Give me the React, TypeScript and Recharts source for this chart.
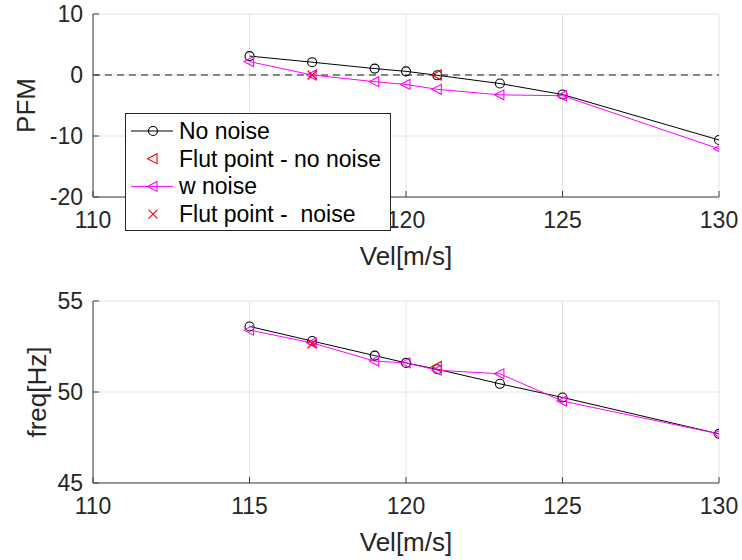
import { ComposedChart, Line, XAxis, YAxis, CartesianGrid, ReferenceLine } from 'recharts';

const vel = [115, 117, 119, 120, 121, 123, 125, 130];
const pfmNoNoise = [3.1, 2.1, 1.05, 0.6, -0.05, -1.4, -3.2, -10.65];
const pfmNoise = [2.2, 0, -1.1, -1.55, -2.35, -3.25, -3.4, -12.1];
const freqNoNoise = [53.6, 52.8, 52.0, 51.6, 51.25, 50.45, 49.7, 47.7];
const freqNoise = [53.4, 52.7, 51.7, 51.6, 51.2, 51.0, 49.5, 47.7];

const flutVelNoNoise = [121];
const flutPfmNoNoise = [0];
const flutFreqNoNoise = [51.4];
const flutVelNoise = [117];
const flutPfmNoise = [0];
const flutFreqNoise = [52.65];

const velTicks = [110, 115, 120, 125, 130];
const pfmTicks = [-20, -10, 0, 10];
const freqTicks = [45, 50, 55];

const legendItems = ['No noise', 'Flut point - no noise', 'w noise', 'Flut point -  noise'];

const FONT = '"Liberation Sans", Arial, Helvetica, sans-serif';
const TXT = '#262626';
const AXIS = '#404040';
const MAGENTA = '#ff00ff';
const RED = '#ff0000';

const zip = (xs: number[], ys: number[]) => xs.map((x, i) => ({ x, y: ys[i] }));

const circleDot = (color: string) => (p: any) =>
  p.cx == null ? <g key={p.key} /> : (
    <circle key={p.key} cx={p.cx} cy={p.cy} r={4.5} fill="none" stroke={color} strokeWidth={1.1} />
  );

const triDot = (color: string) => (p: any) =>
  p.cx == null ? <g key={p.key} /> : (
    <polygon
      key={p.key}
      points={`${p.cx - 5.5},${p.cy} ${p.cx + 4},${p.cy - 5} ${p.cx + 4},${p.cy + 5}`}
      fill="none"
      stroke={color}
      strokeWidth={1.1}
    />
  );

const crossDot = (color: string) => (p: any) =>
  p.cx == null ? <g key={p.key} /> : (
    <path
      key={p.key}
      d={`M${p.cx - 4.5},${p.cy - 4.5}L${p.cx + 4.5},${p.cy + 4.5}M${p.cx - 4.5},${p.cy + 4.5}L${p.cx + 4.5},${p.cy - 4.5}`}
      stroke={color}
      strokeWidth={1.2}
    />
  );

const XTick = (p: any) => (
  <g>
    <line x1={p.x} x2={p.x} y1={p.y} y2={p.y - 6} stroke={AXIS} />
    <text x={p.x} y={p.y + 23} textAnchor="middle" dominantBaseline="central" fill={TXT} fontSize={23} fontFamily={FONT}>
      {p.payload.value}
    </text>
  </g>
);

const YTick = (p: any) => (
  <g>
    <line x1={p.x} x2={p.x + 6} y1={p.y} y2={p.y} stroke={AXIS} />
    <text x={p.x - 10} y={p.y} textAnchor="end" dominantBaseline="central" fill={TXT} fontSize={23} fontFamily={FONT}>
      {p.payload.value}
    </text>
  </g>
);

const xLabel = (props: any) => {
  const vb = props.viewBox;
  return (
    <text x={vb.x + vb.width / 2} y={vb.y + 59} textAnchor="middle" dominantBaseline="central" fill={TXT} fontSize={26} fontFamily={FONT}>
      Vel[m/s]
    </text>
  );
};

const yLabel = (text: string, cx: number) => (props: any) => {
  const vb = props.viewBox;
  const cy = vb.y + vb.height / 2;
  return (
    <text x={cx} y={cy} transform={`rotate(-90 ${cx} ${cy})`} textAnchor="middle" dominantBaseline="central" fill={TXT} fontSize={26} fontFamily={FONT}>
      {text}
    </text>
  );
};

function Panel(props: {
  top: number;
  margin: { top: number; right: number; bottom: number; left: number };
  yDomain: [number, number];
  yTicks: number[];
  yTitle: string;
  yTitleX: number;
  noNoise: number[];
  noise: number[];
  flutNoNoise: number[];
  flutNoise: number[];
  zeroLine?: boolean;
}) {
  return (
    <div style={{ position: 'absolute', left: 0, top: props.top }}>
      <ComposedChart width={742} height={280} margin={props.margin}>
        <CartesianGrid stroke="#e2e2e2" />
        <XAxis
          type="number"
          dataKey="x"
          domain={[110, 130]}
          ticks={velTicks}
          allowDataOverflow
          height={60}
          stroke={AXIS}
          tickSize={0}
          tickMargin={0}
          tick={XTick}
          label={{ content: xLabel }}
        />
        <YAxis
          type="number"
          dataKey="y"
          domain={props.yDomain}
          ticks={props.yTicks}
          allowDataOverflow
          width={93}
          stroke={AXIS}
          tickSize={0}
          tickMargin={0}
          tick={YTick}
          label={{ content: yLabel(props.yTitle, props.yTitleX) }}
        />
        {props.zeroLine && (
          <ReferenceLine y={0} stroke="#1a1a1a" strokeDasharray="7 5" strokeWidth={1} />
        )}
        <Line
          data={zip(vel, props.noNoise)}
          dataKey="y"
          stroke="#000000"
          strokeWidth={1}
          dot={circleDot('#000000')}
          isAnimationActive={false}
        />
        <Line
          data={zip(flutVelNoNoise, props.flutNoNoise)}
          dataKey="y"
          stroke="none"
          dot={triDot(RED)}
          isAnimationActive={false}
        />
        <Line
          data={zip(vel, props.noise)}
          dataKey="y"
          stroke={MAGENTA}
          strokeWidth={1}
          dot={triDot(MAGENTA)}
          isAnimationActive={false}
        />
        <Line
          data={zip(flutVelNoise, props.flutNoise)}
          dataKey="y"
          stroke="none"
          dot={crossDot(RED)}
          isAnimationActive={false}
        />
      </ComposedChart>
    </div>
  );
}

function LegendBox() {
  const rowH = 27.7;
  return (
    <div
      style={{
        position: 'absolute',
        left: 125,
        top: 113,
        width: 264,
        height: 116,
        background: '#ffffff',
        border: '1px solid #262626',
      }}
    >
      <svg width={264} height={116} style={{ position: 'absolute', left: 0, top: 0 }}>
        {legendItems.map((name, i) => {
          const cy = 17 + i * rowH;
          const cx = 27;
          const p = { cx, cy, key: name };
          return (
            <g key={name}>
              {i === 0 && <line x1={5} x2={47} y1={cy} y2={cy} stroke="#000" />}
              {i === 2 && <line x1={5} x2={47} y1={cy} y2={cy} stroke={MAGENTA} />}
              {i === 0 && circleDot('#000000')(p)}
              {i === 1 && triDot(RED)(p)}
              {i === 2 && triDot(MAGENTA)(p)}
              {i === 3 && crossDot(RED)(p)}
              <text
                x={53}
                y={cy}
                dominantBaseline="central"
                fontSize={23}
                fontFamily={FONT}
                fill="#000"
                style={{ whiteSpace: 'pre' }}
              >
                {name}
              </text>
            </g>
          );
        })}
      </svg>
    </div>
  );
}

export default function App() {
  return (
    <div style={{ position: 'absolute', left: 0, top: 0, width: 742, height: 560, background: '#fff' }}>
      <Panel
        top={0}
        margin={{ top: 14, right: 23, bottom: 23, left: 0 }}
        yDomain={[-20, 10]}
        yTicks={pfmTicks}
        yTitle="PFM"
        yTitleX={26}
        noNoise={pfmNoNoise}
        noise={pfmNoise}
        flutNoNoise={flutPfmNoNoise}
        flutNoise={flutPfmNoise}
        zeroLine
      />
      <Panel
        top={280}
        margin={{ top: 21, right: 23, bottom: 17, left: 0 }}
        yDomain={[45, 55]}
        yTicks={freqTicks}
        yTitle="freq[Hz]"
        yTitleX={37}
        noNoise={freqNoNoise}
        noise={freqNoise}
        flutNoNoise={flutFreqNoNoise}
        flutNoise={flutFreqNoise}
      />
      <LegendBox />
    </div>
  );
}
